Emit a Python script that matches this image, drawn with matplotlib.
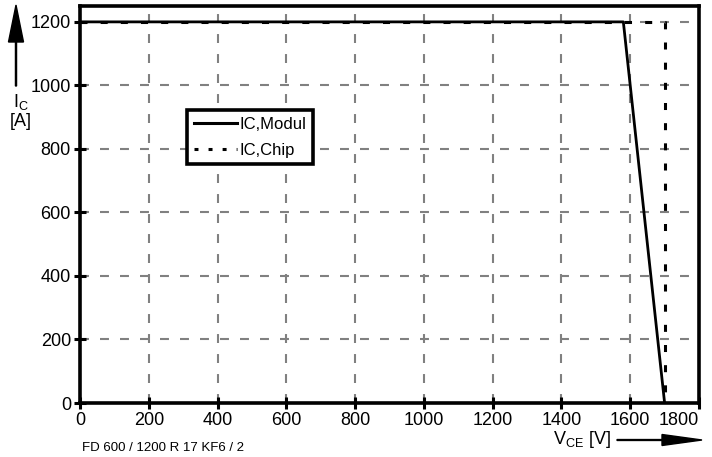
import matplotlib
matplotlib.use("Agg")
import matplotlib.pyplot as plt
from matplotlib.lines import Line2D
from matplotlib.patches import FancyArrow

plt.rcParams["font.family"] = ["Liberation Sans", "DejaVu Sans"]

# IC,Modul: flat at 1200 A, then drops to 0 near 1700 V
vce_modul = [0, 1580, 1700]
ic_modul = [1200, 1200, 0]

# IC,Chip: flat at 1200 A up to 1700 V, then vertical
vce_chip = [0, 1700, 1700]
ic_chip = [1200, 1200, 0]

x_ticks = [0, 200, 400, 600, 800, 1000, 1200, 1400, 1600, 1800]
y_ticks = [0, 200, 400, 600, 800, 1000, 1200]

fig = plt.figure(figsize=(7.12, 4.57), dpi=100)
ax = fig.add_axes([80 / 712, 54 / 457, 619 / 712, 397 / 457])

ax.plot(vce_chip, ic_chip, color="black", lw=2.2, dashes=(2.3, 4.3))
ax.plot(vce_modul, ic_modul, color="black", lw=2.0)

ax.set_xlim(0, 1800)
ax.set_ylim(0, 1250)
ax.set_xticks(x_ticks)
ax.set_yticks(y_ticks)
ax.tick_params(direction="inout", length=9, width=2.2, labelsize=13, pad=2)
ax.get_xticklabels()[-1].set_horizontalalignment("right")
ax.grid(True, color="#808080", lw=1.5, dashes=(4.3, 5.3))
for s in ax.spines.values():
    s.set_linewidth(2.6)

handles = [Line2D([], [], color="black", lw=2.2),
           Line2D([], [], color="black", lw=2.2, dashes=(1.3, 3.3))]
leg = ax.legend(handles, ["IC,Modul", "IC,Chip"], loc="upper left",
                bbox_to_anchor=(107 / 619, 293 / 397), fontsize=12,
                frameon=True, fancybox=False, framealpha=1, handlelength=2.6,
                handletextpad=0.15, borderpad=0.4, labelspacing=0.65,
                borderaxespad=0)
leg.get_frame().set_edgecolor("black")
leg.get_frame().set_linewidth(2.6)

# axis labels with arrows
fig.text(13 / 712, 1 - 102 / 457, r"$\mathregular{I_C}$", fontsize=13,
         ha="left", va="center")
fig.text(10 / 712, 1 - 121 / 457, "[A]", fontsize=13, ha="left", va="center")
fig.patches.append(FancyArrow(
    16 / 712, 1 - 86 / 457, 0, 81 / 457, width=0.0015, head_width=15 / 712,
    head_length=37 / 457, length_includes_head=True, color="black",
    transform=fig.transFigure, figure=fig))

fig.text(553 / 712, 1 - 440 / 457, r"$\mathregular{V_{CE}}$ [V]", fontsize=13,
         ha="left", va="center")
fig.patches.append(FancyArrow(
    617 / 712, 1 - 440 / 457, 85 / 712, 0, width=0.002, head_width=11 / 457,
    head_length=40 / 712, length_includes_head=True, color="black",
    transform=fig.transFigure, figure=fig))

fig.text(82 / 712, 1 - 448 / 457, "FD 600 / 1200 R 17 KF6 / 2", fontsize=9.5,
         ha="left", va="center")

fig.savefig("out.png", dpi=100)
